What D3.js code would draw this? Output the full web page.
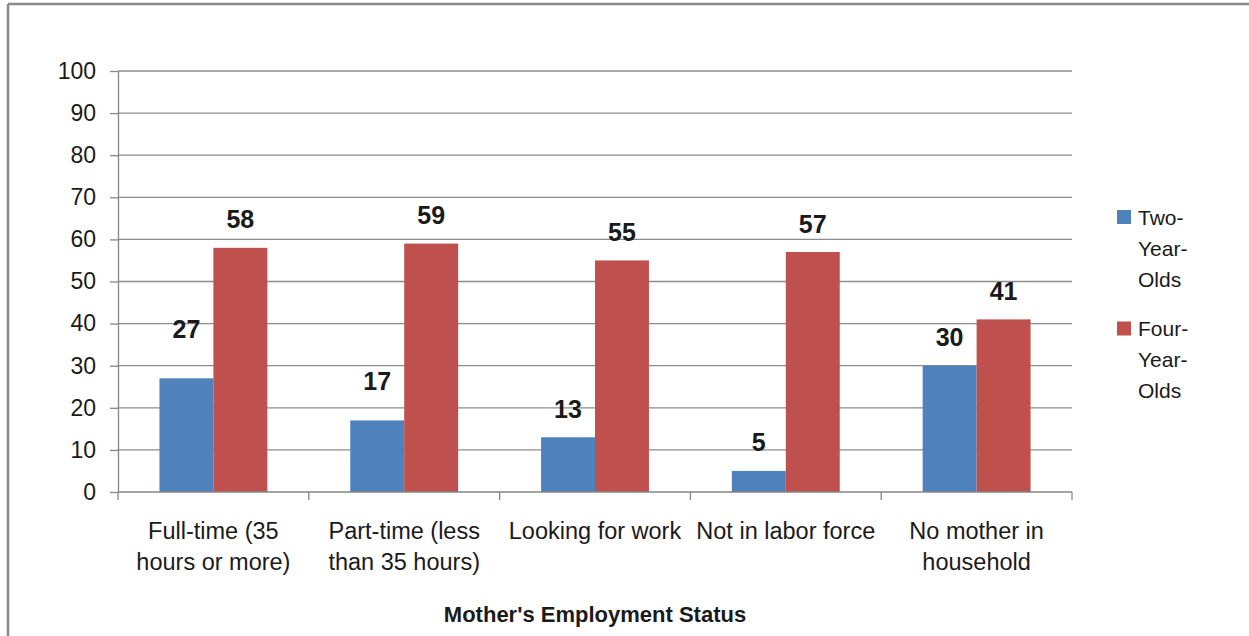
<!DOCTYPE html>
<html>
<head>
<meta charset="utf-8">
<script src="https://cdn.jsdelivr.net/npm/d3@7"></script>
<style>
  html, body { margin: 0; padding: 0; background: #fff; }
  svg { display: block; }
  text { font-family: "Liberation Sans", Arial, sans-serif; fill: #1a1a1a; }
</style>
</head>
<body>
<svg id="chart" width="1249" height="636"></svg>
<script>
// Mother's employment status categories (each label split onto two lines)
const categories = [
  ["Full-time (35", "hours or more)"],
  ["Part-time (less", "than 35 hours)"],
  ["Looking for work"],
  ["Not in labor force"],
  ["No mother in", "household"]
];
const seriesNames = [["Two-", "Year-", "Olds"], ["Four-", "Year-", "Olds"]];
const twoYearOlds = [27, 17, 13, 5, 30];
const fourYearOlds = [58, 59, 55, 57, 41];
const yTicks = [0, 10, 20, 30, 40, 50, 60, 70, 80, 90, 100];
const axisTitle = "Mother's Employment Status";

// Layout and style settings
const colors = ["#4F81BD", "#C0504D"];
const plot = { left: 118, right: 1072, top: 71, bottom: 492 };
const labelLift = [[21, 0], [11, 0], [0, 0], [0, 0], [0, 0]]; // extra raise for crowded labels

const svg = d3.select("#chart");

// Outer frame (top and left edges)
svg.append("line").attr("x1", 8).attr("x2", 1249).attr("y1", 4).attr("y2", 4)
  .attr("stroke", "#8a8a8a").attr("stroke-width", 2.5);
svg.append("line").attr("x1", 8).attr("x2", 8).attr("y1", 4).attr("y2", 636)
  .attr("stroke", "#8a8a8a").attr("stroke-width", 2.5);

const idx = d3.range(categories.length);
const x = d3.scaleBand().domain(idx).range([plot.left, plot.right]).paddingInner(0).paddingOuter(0);
const inner = d3.scaleBand().domain([0, 1]).range([0, x.bandwidth()]).paddingInner(0).paddingOuter(0.7685);
const y = d3.scaleLinear().domain([0, 100]).range([plot.bottom, plot.top]);

// Horizontal gridlines
svg.append("g").selectAll("line").data(yTicks.filter(t => t > 0)).join("line")
  .attr("x1", plot.left).attr("x2", plot.right)
  .attr("y1", d => y(d)).attr("y2", d => y(d))
  .attr("stroke", "#8c8c8c").attr("stroke-width", 1.3);

// Y axis
const yAxis = svg.append("g").attr("transform", `translate(${plot.left},0)`)
  .call(d3.axisLeft(y).tickValues(yTicks).tickSize(8).tickPadding(14).tickSizeOuter(0));
yAxis.select(".domain").attr("stroke", "#868686").attr("stroke-width", 1.3);
yAxis.selectAll(".tick line").attr("stroke", "#868686").attr("stroke-width", 1.3);
yAxis.selectAll(".tick text").attr("font-size", 23).attr("font-family", "Liberation Sans, Arial, sans-serif").attr("fill", "#1a1a1a");

// Bars
const series = [twoYearOlds, fourYearOlds];
series.forEach((vals, s) => {
  svg.append("g").selectAll("rect").data(vals).join("rect")
    .attr("x", (d, i) => x(i) + inner(s))
    .attr("width", inner.bandwidth())
    .attr("y", d => y(d))
    .attr("height", d => y(0) - y(d))
    .attr("fill", colors[s]);
});

// X axis baseline and category ticks
svg.append("line").attr("x1", plot.left).attr("x2", plot.right)
  .attr("y1", plot.bottom).attr("y2", plot.bottom)
  .attr("stroke", "#868686").attr("stroke-width", 1.3);
svg.append("g").selectAll("line").data(d3.range(categories.length + 1)).join("line")
  .attr("x1", d => plot.left + d * x.bandwidth()).attr("x2", d => plot.left + d * x.bandwidth())
  .attr("y1", plot.bottom).attr("y2", plot.bottom + 8)
  .attr("stroke", "#868686").attr("stroke-width", 1.3);

// Category labels
const catG = svg.append("g");
categories.forEach((lines, i) => {
  const t = catG.append("text")
    .attr("x", x(i) + x.bandwidth() / 2)
    .attr("text-anchor", "middle").attr("font-size", 23.5);
  lines.forEach((ln, j) => {
    t.append("tspan").attr("x", x(i) + x.bandwidth() / 2)
      .attr("y", 531 + j * 31).attr("dominant-baseline", "central").text(ln);
  });
});

// Value labels
series.forEach((vals, s) => {
  svg.append("g").selectAll("text").data(vals).join("text")
    .attr("x", (d, i) => x(i) + inner(s) + inner.bandwidth() / 2)
    .attr("y", (d, i) => y(d) - 28.5 - labelLift[i][s])
    .attr("dominant-baseline", "central")
    .attr("text-anchor", "middle")
    .attr("font-size", 25).attr("font-weight", "bold")
    .text(d => d);
});

// Axis title
svg.append("text").attr("x", (plot.left + plot.right) / 2).attr("y", 614)
  .attr("dominant-baseline", "central").attr("text-anchor", "middle")
  .attr("font-size", 22).attr("font-weight", "bold").text(axisTitle);

// Legend
const legend = svg.append("g");
seriesNames.forEach((lines, s) => {
  const top = 217 + s * 111.5;
  legend.append("rect").attr("x", 1117).attr("y", top - 7).attr("width", 14).attr("height", 14)
    .attr("fill", colors[s]);
  const t = legend.append("text").attr("font-size", 21);
  lines.forEach((ln, j) => {
    t.append("tspan").attr("x", 1138).attr("y", top + j * 31)
      .attr("dominant-baseline", "central").text(ln);
  });
});
</script>
</body>
</html>
